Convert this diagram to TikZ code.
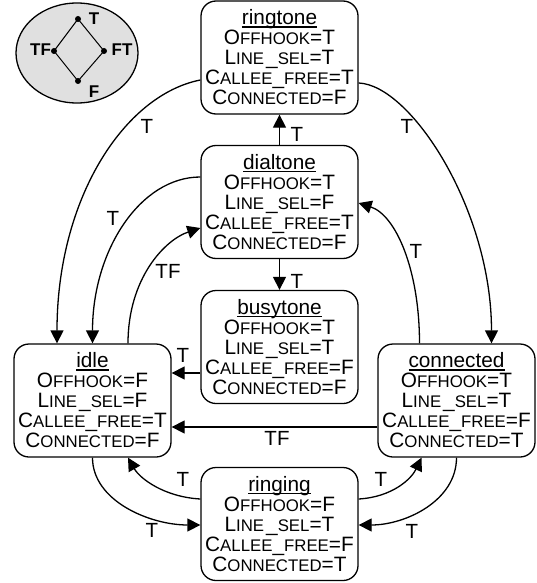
\documentclass[tikz,border=0pt]{standalone}
\usepackage{fontspec}
\setmainfont{Liberation Sans}
\usetikzlibrary{arrows.meta,calc,shapes.geometric}
\newcommand{\sci}[1]{{\fontsize{16.8}{20}\selectfont #1}}
\newcommand{\ulin}[1]{\setbox0\hbox{#1}\rlap{\rule[-2.6pt]{\wd0}{1.3pt}}\box0}
\begin{document}
\begin{tikzpicture}[x=1pt,y=-1pt,
 state/.style={draw, line width=1.3pt, rounded corners=15pt, minimum width=157pt, minimum height=113pt, align=center, inner sep=0pt, font=\fontsize{20.8}{20}\selectfont},
 conn/.style={line width=1.3pt, -{Triangle[length=13pt,width=13pt]}},
 lbl/.style={font=\fontsize{20.5}{20}\selectfont, inner sep=0pt},
 dot/.style={circle, fill, inner sep=0pt, minimum size=6pt},
 lat/.style={font=\bfseries\fontsize{17}{17}\selectfont, inner sep=0pt}]
\useasboundingbox (0,0) rectangle (536,583);

% lattice
\node[draw, ellipse, line width=1.3pt, fill=black!12, minimum width=122pt, minimum height=100pt, inner sep=0pt] (lattice) at (77,53) {};
\node[dot] (dT) at (78,19) {};
\node[dot] (dTF) at (54,51) {};
\node[dot] (dFT) at (104,51) {};
\node[dot] (dF) at (78,81) {};
\draw[line width=1pt] (dT.center) -- (dTF.center) -- (dF.center) -- (dFT.center) -- (dT.center);
\node[lat] (lT) at (94,19) {T};
\node[lat] (lTF) at (40.5,50) {TF};
\node[lat] (lFT) at (122,50) {FT};
\node[lat] (lF) at (94,92) {F};

% states
\node[state] (ringtone) at (279.5,57.5) {\ulin{ringtone}\\O\sci{FFHOOK}=T\\L\sci{INE}\hspace{2pt}\_\sci{SEL}=T\\C\sci{ALLEE}\_\sci{FREE}=T\\C\sci{ONNECTED}=F};
\node[state] (dialtone) at (279.5,202) {\ulin{dialtone}\\O\sci{FFHOOK}=T\\L\sci{INE}\hspace{2pt}\_\sci{SEL}=F\\C\sci{ALLEE}\_\sci{FREE}=T\\C\sci{ONNECTED}=F};
\node[state] (busytone) at (279.5,347) {\ulin{busytone}\\O\sci{FFHOOK}=T\\L\sci{INE}\hspace{2pt}\_\sci{SEL}=T\\C\sci{ALLEE}\_\sci{FREE}=F\\C\sci{ONNECTED}=F};
\node[state] (idle) at (92.5,400.5) {\ulin{idle}\\O\sci{FFHOOK}=F\\L\sci{INE}\hspace{2pt}\_\sci{SEL}=F\\C\sci{ALLEE}\_\sci{FREE}=T\\C\sci{ONNECTED}=F};
\node[state] (connected) at (456.5,400.5) {\ulin{connected}\\O\sci{FFHOOK}=T\\L\sci{INE}\hspace{2pt}\_\sci{SEL}=T\\C\sci{ALLEE}\_\sci{FREE}=F\\C\sci{ONNECTED}=T};
\node[state] (ringing) at (279.5,524) {\ulin{ringing}\\O\sci{FFHOOK}=F\\L\sci{INE}\hspace{2pt}\_\sci{SEL}=T\\C\sci{ALLEE}\_\sci{FREE}=F\\C\sci{ONNECTED}=T};

% connectors
\draw[conn] ($(ringtone.west)+(0,22.5)$) .. controls +(-76,15) and +(0,-145) .. ($(idle.north)+(-35.5,0)$);
\draw[conn] ($(dialtone.west)+(0,-25)$) .. controls +(-60,0) and +(0,-93) .. (idle.north);
\draw[conn] ($(idle.north)+(35.5,0)$) .. controls +(0,-64.5) and +(-36,12) .. ($(dialtone.west)+(0,26)$);
\draw[conn] ($(ringtone.east)+(0,25.5)$) .. controls +(52,2) and +(0,-134) .. ($(connected.north)+(35,0)$);
\draw[conn] ($(connected.north)+(-37,0)$) .. controls +(0,-74) and +(37,12) .. ($(dialtone.east)+(0,1)$);
\draw[conn] (idle.south) .. controls +(0,43) and +(-51,0) .. ($(ringing.west)+(0,1)$);
\draw[conn] ($(ringing.west)+(0,-25)$) .. controls +(-36,-2) and +(12,21) .. ($(idle.south)+(35.5,0)$);
\draw[conn] ($(ringing.east)+(0,-25)$) .. controls +(34,-2) and +(-10,21) .. ($(connected.south)+(-35,0)$);
\draw[conn] (connected.south) .. controls +(0,43) and +(47,0) .. ($(ringing.east)+(0,1)$);
\draw[conn] (dialtone.north) -- (ringtone.south);
\draw[conn] (dialtone.south) -- (busytone.north);
\coordinate (bsA) at ($(busytone.west)+(0,26)$);
\draw[conn] (bsA) -- (bsA -| idle.east);
\coordinate (cnA) at ($(connected.west)+(0,26.5)$);
\draw[conn] (cnA) -- (cnA -| idle.east);

% labels
\node[lbl] (t1) at (147,126) {T};
\node[lbl] (t2) at (113,218) {T};
\node[lbl] (t3) at (168,271) {TF};
\node[lbl] (t4) at (297,134) {T};
\node[lbl] (t5) at (297,281) {T};
\node[lbl] (t6) at (183,355) {T};
\node[lbl] (t7) at (277,438) {TF};
\node[lbl] (t8) at (407,126) {T};
\node[lbl] (t9) at (416,251) {T};
\node[lbl] (t10) at (152,530) {T};
\node[lbl] (t11) at (183,479) {T};
\node[lbl] (t12) at (381,479) {T};
\node[lbl] (t13) at (412,531) {T};
\end{tikzpicture}
\end{document}
